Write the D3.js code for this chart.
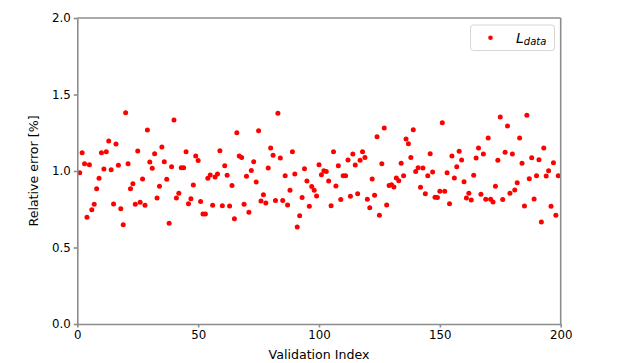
<!DOCTYPE html>
<html>
<head>
<meta charset="utf-8">
<script src="https://cdn.jsdelivr.net/npm/d3@7"></script>
<style>
  body { margin: 0; background: #fff; }
  .chart text { font-family: "DejaVu Sans", sans-serif; fill: #000; }
  .axis path, .axis line { stroke: #8c8c8c; stroke-width: 1.6; }
  .axis text { font-size: 11.8px; }
  .dot { fill: #ff0000; }
</style>
</head>
<body>
<div class="chart"></div>
<script>
// validation index of each sample (1..199)
var indices = d3.range(1, 200);

// relative error [%] per validation sample
var relError = [
  0.989, 1.120, 1.048, 0.697, 1.041, 0.747, 0.782, 0.884, 0.952, 1.120,
  1.013, 1.126, 1.196, 1.008, 0.784, 1.176, 1.037, 0.754, 0.649, 1.381,
  1.048, 0.884, 0.917, 0.782, 1.131, 0.795, 0.948, 0.776, 1.268, 1.059,
  1.018, 1.113, 0.824, 0.900, 1.157, 1.061, 0.946, 0.658, 1.028, 1.333,
  0.824, 0.854, 1.022, 1.022, 1.126, 0.786, 0.819, 0.908, 1.098, 1.068,
  0.800, 0.719, 0.719, 0.952, 0.974, 0.776, 0.961, 0.980, 1.133, 0.773,
  1.035, 0.972, 0.771, 0.906, 0.688, 1.250, 1.098, 1.089, 0.782, 0.965,
  0.730, 1.004, 1.061, 0.928, 1.263, 0.804, 0.845, 0.791, 1.020, 1.150,
  1.103, 0.808, 1.377, 1.085, 0.808, 0.969, 0.778, 0.874, 1.126, 0.980,
  0.634, 0.708, 0.826, 1.015, 0.935, 0.769, 0.898, 0.874, 0.837, 1.041,
  0.976, 1.002, 0.996, 0.935, 0.773, 1.126, 0.902, 1.035, 0.813, 0.969,
  0.969, 1.072, 0.835, 1.111, 1.039, 0.852, 1.070, 1.126, 1.089, 0.815,
  0.760, 0.948, 0.841, 1.224, 0.710, 1.048, 1.281, 0.778, 0.906, 0.910,
  0.895, 0.954, 0.937, 1.050, 0.969, 1.209, 1.178, 1.089, 1.270, 0.996,
  1.022, 0.893, 1.020, 0.852, 0.969, 1.113, 0.993, 0.828, 0.826, 0.867,
  1.316, 0.867, 0.989, 0.786, 1.098, 0.954, 1.028, 1.129, 1.072, 0.930,
  0.824, 0.854, 0.810, 0.972, 1.085, 1.150, 0.848, 1.111, 0.815, 1.216,
  0.815, 0.797, 0.900, 1.070, 1.353, 0.813, 1.122, 1.294, 0.854, 1.111,
  0.876, 0.924, 1.216, 1.050, 0.771, 1.364, 0.950, 1.087, 0.817, 0.969,
  1.074, 0.667, 1.150, 0.967, 1.002, 0.769, 1.054, 0.710, 0.969
];

var xTicks = [0, 50, 100, 150, 200];
var yTicks = [0.0, 0.5, 1.0, 1.5, 2.0];

// set the dimensions and margins of the graph
var margin = {top: 18, right: 62.3, bottom: 39, left: 77.3},
    width = 623 - margin.left - margin.right,
    height = 363 - margin.top - margin.bottom;

var svg = d3.select(".chart").append("svg")
    .attr("width", 623)
    .attr("height", 363);

var g = svg.append("g")
    .attr("transform", "translate(" + margin.left + "," + margin.top + ")");

var x = d3.scaleLinear().domain([0, 200]).range([0, width]);
var y = d3.scaleLinear().domain([0, 2]).range([height, 0]);

var data = indices.map(function(d, i) { return {idx: d, value: relError[i]}; });

// points first, spines drawn over them
g.selectAll(".dot")
    .data(data)
  .enter().append("circle")
    .attr("class", "dot")
    .attr("cx", function(d) { return x(d.idx); })
    .attr("cy", function(d) { return y(d.value); })
    .attr("r", 2.5);

g.append("g")
    .attr("class", "x axis")
    .attr("transform", "translate(0," + height + ")")
    .call(d3.axisBottom(x).tickValues(xTicks).tickSize(3.5).tickPadding(3).tickSizeOuter(0));

g.append("g")
    .attr("class", "y axis")
    .call(d3.axisLeft(y).tickValues(yTicks).tickSize(3.5).tickPadding(3).tickSizeOuter(0)
      .tickFormat(d3.format(".1f")));

// top and right spines
g.append("line").attr("class", "spine")
    .attr("x1", 0).attr("x2", width).attr("y1", 0).attr("y2", 0)
    .attr("stroke", "#8c8c8c").attr("stroke-width", 1.6);
g.append("line").attr("class", "spine")
    .attr("x1", width).attr("x2", width).attr("y1", 0).attr("y2", height)
    .attr("stroke", "#8c8c8c").attr("stroke-width", 1.6);

g.selectAll(".axis .domain").attr("stroke", "#8c8c8c");

// axis titles
svg.append("text")
    .attr("x", margin.left + width / 2)
    .attr("y", 359)
    .attr("text-anchor", "middle")
    .style("font-size", "12.6px")
    .text("Validation Index");

svg.append("text")
    .attr("transform", "translate(38," + (margin.top + height / 2) + ") rotate(-90)")
    .attr("text-anchor", "middle")
    .style("font-size", "12.6px")
    .text("Relative error [%]");

// legend
var legend = svg.append("g").attr("transform", "translate(470.5,25)");
legend.append("rect")
    .attr("width", 84).attr("height", 25.5)
    .attr("rx", 3).attr("ry", 3)
    .attr("fill", "#fff")
    .attr("stroke", "#d6d6d6")
    .attr("stroke-width", 1);
legend.append("circle")
    .attr("class", "dot")
    .attr("cx", 20).attr("cy", 12.7)
    .attr("r", 2.3);
var lt = legend.append("text")
    .attr("x", 45.5).attr("y", 17.5)
    .style("font-style", "italic")
    .style("font-size", "14px");
lt.append("tspan").text("L");
lt.append("tspan")
    .attr("dy", 2.5)
    .style("font-size", "10px")
    .text("data");
</script>
</body>
</html>
